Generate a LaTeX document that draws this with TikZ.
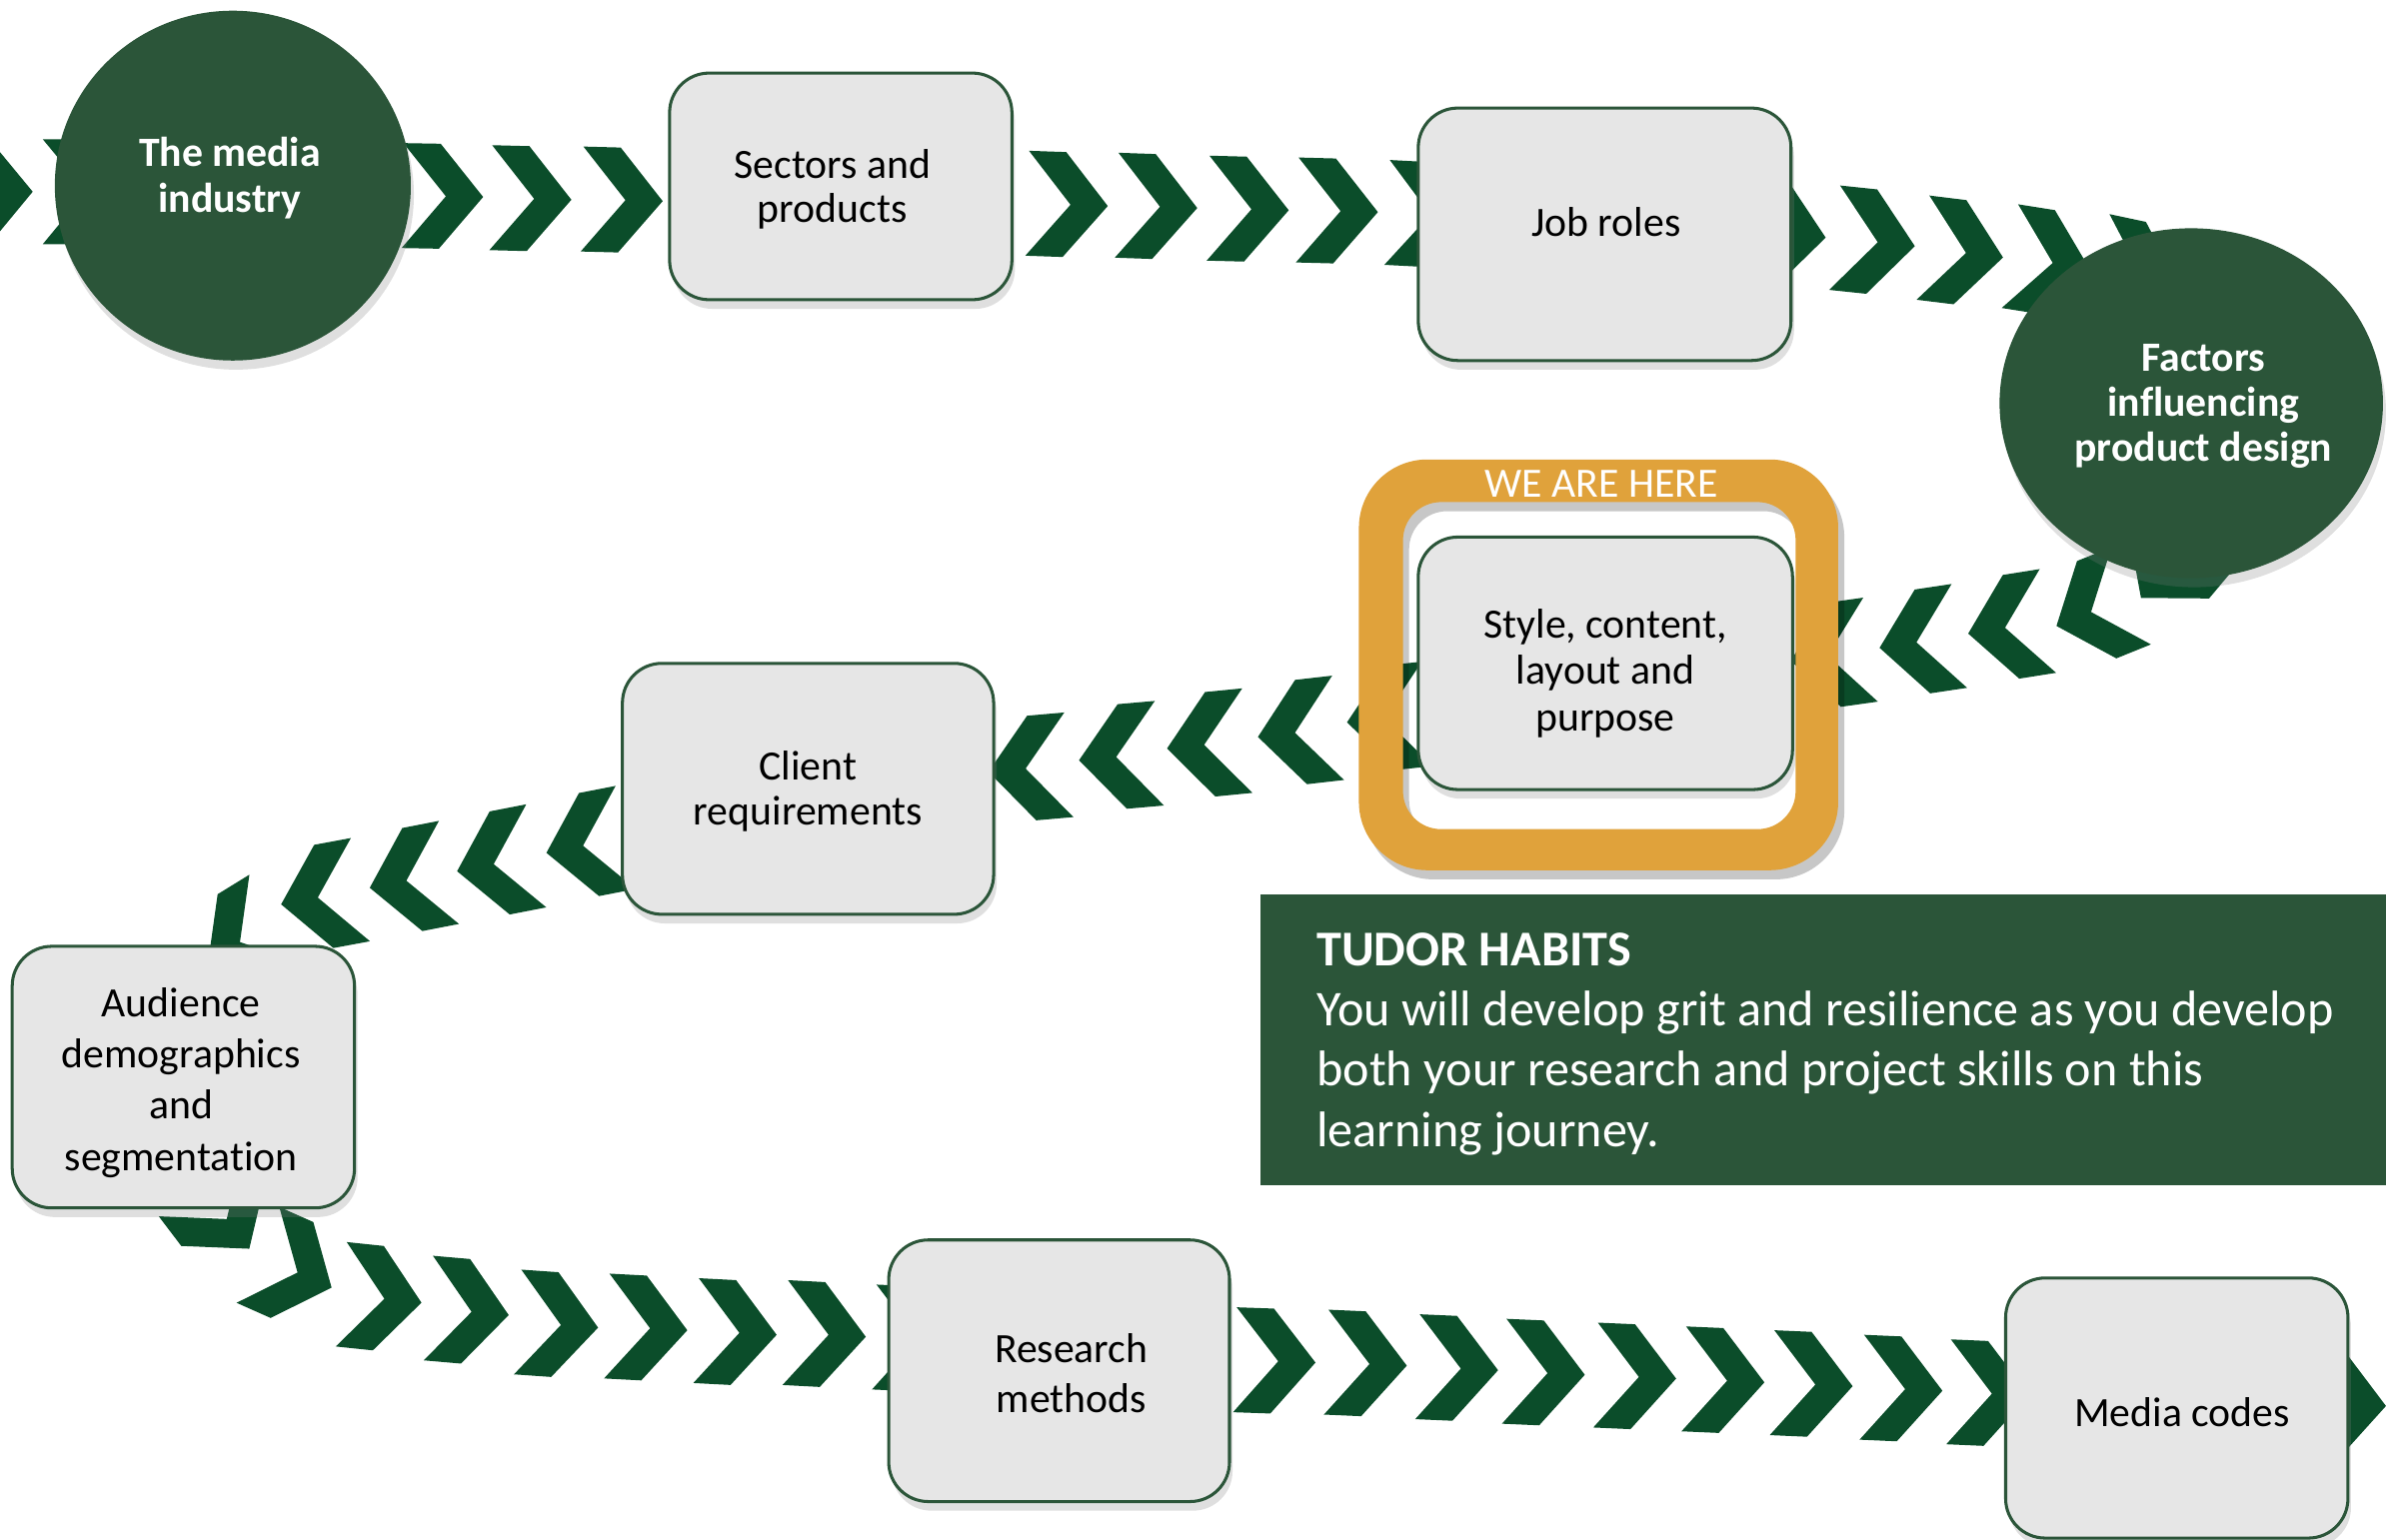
\documentclass[tikz,border=0pt]{standalone}
\usepackage{fontspec}
\setmainfont{Carlito}[Ligatures=NoCommon]
\usetikzlibrary{shapes.geometric,shadows}
\definecolor{chevgreen}{HTML}{0B4D2A}
\definecolor{deepgreen}{HTML}{2B5539}
\definecolor{boxgray}{HTML}{E6E6E6}
\definecolor{ringgold}{HTML}{E0A23B}
\begin{document}
\begin{tikzpicture}[x=0.02cm,y=-0.02cm,
  chevshape/.style={fill=chevgreen},
  stepbox/.style={draw=deepgreen, line width=0.04cm, fill=boxgray, rounded corners=0.52cm,
    inner sep=0pt, drop shadow={shadow xshift=0.04cm, shadow yshift=-0.12cm, opacity=0.25}},
  bubble/.style={ellipse, fill=deepgreen, inner sep=0pt,
    drop shadow={shadow xshift=0.04cm, shadow yshift=-0.12cm, opacity=0.25}},
  boxtext/.style={align=center, text=black, inner sep=0pt},
  bubbletext/.style={align=center, text=white, inner sep=0pt},
]
\useasboundingbox (0,0) rectangle (1568,1012);
\clip (0,0) rectangle (1568,1012);

% chevron trail
\foreach \cx/\cy/\ca in {
  -5/126/0, 54.6/126/0, 291/129/-1, 349/130.6/-1.5, 409/131.5/-1.5,
  638/133.5/-2, 701.5/134.5/-2, 760.3/135.8/-2, 820.4/137.5/-1.5, 879/138.7/-1.5, 938/141/-3,
  1173.4/153.4/-6, 1232/159/-6, 1290/166/-7, 1347/172.5/-9, 1405/180/-12,
  1424/372.7/230, 1376/401.5/202, 1319.6/412.3/189, 1261.4/421.9/188.5, 1203/430.7/188,
  1145/439/187, 1087/447/187, 1028/455/187, 970/463/187, 911.6/472/186,
  853/481.4/186.5, 793.3/489.4/185.6, 735.5/497.4/185, 676/505/185,
  385.1/555.5/191, 326.4/567.6/191, 269/578.5/191, 210.8/589.6/190.5, 159.4/618.2/211.6,
  147.8/799.7/-52.8, 193.7/835.6/-24, 250.6/853.5/-6, 307.9/862.1/-5, 366.6/870.8/-4,
  425.2/873/-3, 483.9/876/-3, 542.5/877.3/-3, 601/880/-2.5,
  838/894.7/-2, 898/896.5/-2.5, 958/899.5/-2.5, 1015/902.5/-2.5, 1075/905/-2.5,
  1133/907.5/-2.5, 1191/910/-2.5, 1250/913/-2.5, 1307/916/-2.5, 1541.5/923/-2.5}
{
  \fill[chevshape, shift={(\cx,\cy)}, rotate=\ca]
    (-26.5,-34.5) -- (-2,-34.5) -- (26.5,0) -- (-2,34.5) -- (-26.5,34.5) -- (2,0) -- cycle;
}

% circles
\node[bubble, minimum width=4.68cm, minimum height=4.6cm] (media) at (153,122) {};
\node[bubbletext, font=\bfseries\fontsize{15.6}{17}\selectfont] (mediatext) at (151,117) {The media\\industry};
\node[bubble, minimum width=5.04cm, minimum height=4.6cm] (factors) at (1440,265) {};
\node[bubbletext, font=\bfseries\fontsize{15.6}{17}\selectfont] (factorstext) at (1448,267) {Factors\\influencing\\product design};

% boxes
\node[stepbox, minimum width=4.5cm, minimum height=2.98cm] (sectors) at (552.5,122.5) {};
\node[boxtext, font=\fontsize{15.6}{16.5}\selectfont] (sectorstext) at (547,124.5) {Sectors and\\products};
\node[stepbox, minimum width=4.9cm, minimum height=3.32cm] (jobs) at (1054.5,154) {};
\node[boxtext, font=\fontsize{15.6}{17}\selectfont] (jobstext) at (1055.5,146) {Job roles};

% we are here ring
\fill[black, opacity=0.22, even odd rule, shift={(4,6)}]
  [rounded corners=0.9cm] (893,302) rectangle (1208,572)
  {[rounded corners=0.5cm] (922,330) rectangle (1180,545)};
\fill[ringgold, even odd rule]
  [rounded corners=0.9cm] (893,302) rectangle (1208,572)
  {[rounded corners=0.5cm] (922,330) rectangle (1180,545)};
\node[text=white, inner sep=0pt, font=\fontsize{15.6}{17}\selectfont] (herelabel) at (1052.5,318) {WE ARE HERE};

\node[stepbox, minimum width=4.92cm, minimum height=3.32cm] (style) at (1055,436) {};
\node[boxtext, font=\fontsize{15.6}{17.4}\selectfont] (styletext) at (1055,442.5) {Style, content,\\layout and\\purpose};
\node[stepbox, minimum width=4.88cm, minimum height=3.30cm] (client) at (531,518.5) {};
\node[boxtext, font=\fontsize{15.6}{17}\selectfont] (clienttext) at (531,520) {Client\\requirements};
\node[stepbox, minimum width=4.5cm, minimum height=3.44cm] (audience) at (120.5,708) {};
\node[boxtext, font=\fontsize{15.6}{19.2}\selectfont] (audiencetext) at (119,711.5) {Audience\\demographics\\and\\segmentation};
\node[stepbox, minimum width=4.48cm, minimum height=3.44cm] (research) at (696,901) {};
\node[boxtext, font=\fontsize{15.6}{18.8}\selectfont] (researchtext) at (704,902.5) {Research\\methods};
\node[stepbox, minimum width=4.5cm, minimum height=3.42cm] (codes) at (1430.5,925.5) {};
\node[boxtext, font=\fontsize{15.6}{17}\selectfont] (codestext) at (1434,928) {Media codes};

% tudor habits panel
\node[fill=deepgreen, inner sep=0pt, minimum width=14.8cm, minimum height=3.82cm] (habits) at (1198,683.5) {};
\node[anchor=north west, align=left, text=white, inner sep=0pt,
  font=\fontsize{18.75}{22.5}\selectfont] (habitstext) at (865,613)
  {\textbf{TUDOR HABITS}\\You will develop grit and resilience as you develop\\both your research and project skills on this\\learning journey.};
\end{tikzpicture}
\end{document}
